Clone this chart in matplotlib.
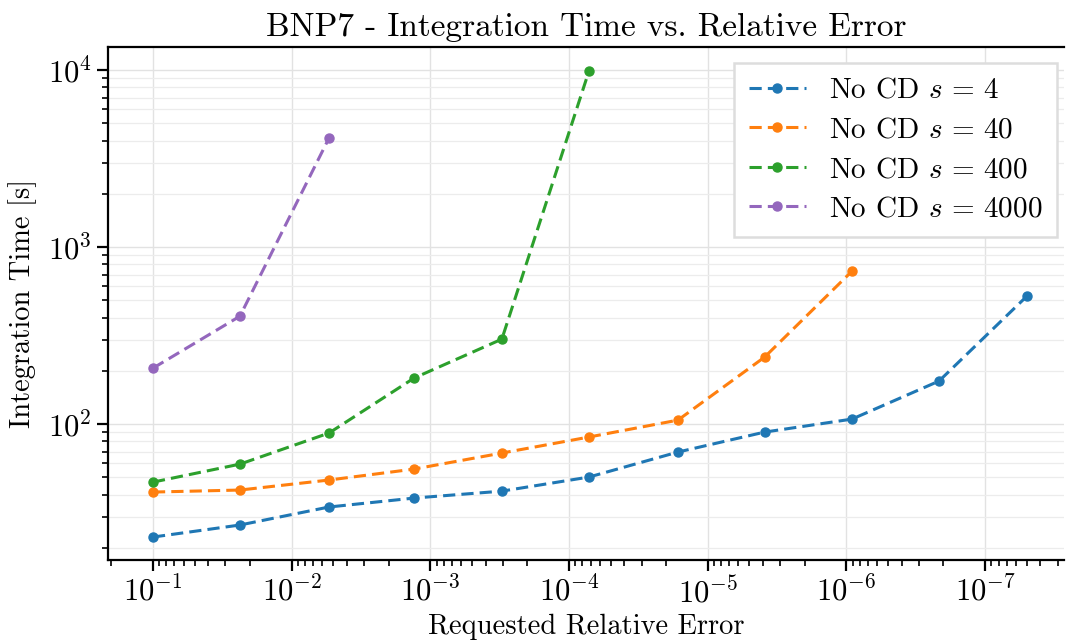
import matplotlib
matplotlib.use("Agg")
import matplotlib.pyplot as plt
from matplotlib.ticker import NullFormatter

plt.rcParams.update({
    "font.family": "serif",
    "font.serif": ["cmr10"],
    "mathtext.fontset": "cm",
    "axes.formatter.use_mathtext": True,
    "axes.unicode_minus": False,
})

# Requested relative error levels
rel_err = [1.0e-1, 2.36e-2, 5.38e-3, 1.31e-3, 3.05e-4, 7.19e-5,
           1.64e-5, 3.89e-6, 9.12e-7, 2.15e-7, 5.0e-8]

# Integration time [s] per stiffness parameter s
time_s4 = [23.0, 26.9, 34.0, 38.2, 41.8, 50.2, 69.5, 90.1, 106.7, 175.0, 528.0]
time_s40 = [41.3, 42.4, 48.3, 55.7, 68.6, 84.5, 105.3, 239.0, 731.0]
time_s400 = [47.0, 59.4, 89.0, 182.0, 302.0, 9860.0]
time_s4000 = [207.0, 407.0, 4130.0]

# Decade ticks on the error axis
x_decades = [1e-1, 1e-2, 1e-3, 1e-4, 1e-5, 1e-6, 1e-7]

series = [
    ("No CD $s\\,=\\,4$", time_s4, "#1f77b4"),
    ("No CD $s\\,=\\,40$", time_s40, "#ff7f0e"),
    ("No CD $s\\,=\\,400$", time_s400, "#2ca02c"),
    ("No CD $s\\,=\\,4000$", time_s4000, "#9467bd"),
]

fig = plt.figure(figsize=(10.66, 6.42), dpi=100)
ax = fig.add_axes([0.1013, 0.1277, 0.8968, 0.799])

for label, times, color in series:
    ax.plot(rel_err[:len(times)], times, linestyle="--", marker="o",
            markersize=6.5, linewidth=2.2, dashes=(4, 2), color=color,
            label=label)

ax.set_xscale("log")
ax.set_yscale("log")
ax.set_xticks(x_decades)
ax.set_xlim(0.211, 2.7e-8)
ax.set_ylim(17.06, 13500)
ax.xaxis.set_minor_formatter(NullFormatter())
ax.yaxis.set_minor_formatter(NullFormatter())

ax.grid(True, which="major", color="#e2e2e2", linewidth=1.0)
ax.yaxis.grid(True, which="minor", color="#ececec", linewidth=0.9)
ax.set_axisbelow(True)

for side in ("left", "bottom", "top"):
    ax.spines[side].set_linewidth(1.6)
ax.spines["right"].set_visible(False)

ax.tick_params(which="major", direction="out", length=8, width=1.6, labelsize=22)
ax.tick_params(which="minor", direction="out", length=4.5, width=1.2)

ax.set_xlabel("Requested Relative Error", fontsize=20.5, labelpad=4)
ax.set_ylabel("Integration Time [s]", fontsize=20.5, labelpad=8)
ax.set_title("BNP7 - Integration Time vs. Relative Error", fontsize=24, pad=8)

leg = ax.legend(loc="upper right", fontsize=21, fancybox=False,
                framealpha=1.0, edgecolor="#dddddd", borderpad=0.5,
                labelspacing=0.45, handlelength=1.95, handletextpad=0.8,
                borderaxespad=0.0, bbox_to_anchor=(0.9927, 0.969))
leg.get_frame().set_linewidth(1.8)

fig.savefig("out.png", dpi=100)
